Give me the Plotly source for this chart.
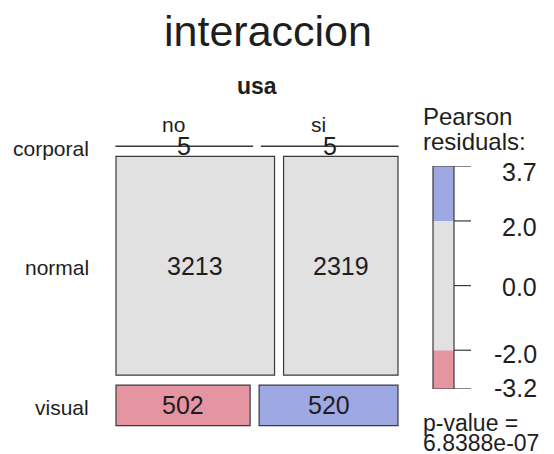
import numpy as np
import plotly.graph_objects as go

# ---- data ----
rows = ["corporal", "normal", "visual"]
cols = ["no", "si"]
counts_no = [5, 3213, 502]
counts_si = [5, 2319, 520]
legend_ticks = [-3.2, -2.0, 0.0, 2.0, 3.7]
legend_tick_labels = ["-3.2", "-2.0", "0.0", "2.0", "3.7"]
title_text = "interaccion"
col_var = "usa"
legend_title_lines = ["Pearson", "residuals:"]
pvalue_lines = ["p-value =", "6.8388e-07"]

# ---- derived ----
tab = np.array([counts_no, counts_si], dtype=float).T  # rows x cols
grand = tab.sum()
expected = np.outer(tab.sum(1), tab.sum(0)) / grand
resid = (tab - expected) / np.sqrt(expected)

GRAY = "#e1e1e1"
PINK = "#e595a2"
BLUE = "#9ea8e2"
BORDER = "#3a3a3a"
FONT = "Liberation Sans, Arial, sans-serif"
TXT = "#1e1e1e"


def fill_for(r):
    if r > 2:
        return BLUE
    if r < -2:
        return PINK
    return GRAY


# geometry of the mosaic area (pixel canvas)
X0, XW, XGAP = 116.0, 282.0, 9.0
Y0, YH, YGAP = 146.0, 259.6, 10.0

fig = go.Figure()
shapes = []
annotations = []

y = Y0
for i, rname in enumerate(rows):
    rt = tab[i].sum()
    h = rt / grand * YH
    avail = XW - XGAP * (len(cols) - 1)
    x = X0
    for j in range(len(cols)):
        w = tab[i, j] / rt * avail
        shapes.append(dict(type="rect", xref="x", yref="y", x0=x, x1=x + w, y0=y, y1=y + h,
                           fillcolor=fill_for(resid[i, j]), line=dict(color=BORDER, width=1.2)))
        annotations.append(dict(x=x + w / 2, y=y + h / 2, xref="x", yref="y",
                                text=str(int(tab[i, j])), showarrow=False,
                                font=dict(family=FONT, size=25, color=TXT),
                                xanchor="center", yanchor="middle"))
        if i == 0:
            annotations.append(dict(x=x + w / 2 - 11, y=y - 22, xref="x", yref="y",
                                    text=cols[j], showarrow=False,
                                    font=dict(family=FONT, size=21, color=TXT),
                                    xanchor="center", yanchor="middle"))
        x += w + XGAP
    annotations.append(dict(x=91, y=y + h / 2 + 2, xref="x", yref="y", text=rname,
                            showarrow=False, font=dict(family=FONT, size=21, color=TXT),
                            xanchor="right", yanchor="middle"))
    y += h + YGAP

# title and variable name
annotations.append(dict(x=268, y=31, xref="x", yref="y", text=title_text, showarrow=False,
                        font=dict(family=FONT, size=43, color=TXT), xanchor="center", yanchor="middle"))
annotations.append(dict(x=257, y=86, xref="x", yref="y", text="<b>" + col_var + "</b>", showarrow=False,
                        font=dict(family=FONT, size=23, color=TXT), xanchor="center", yanchor="middle"))

# legend (on its own y axis)
rmin, rmax = legend_ticks[0], legend_ticks[-1]
LX0, LX1 = 433, 454
bands = [(rmin, -2.0, PINK), (-2.0, 2.0, GRAY), (2.0, rmax, BLUE)]
for b0, b1, c in bands:
    shapes.append(dict(type="rect", xref="x", yref="y2", x0=LX0, x1=LX1, y0=b0, y1=b1,
                       fillcolor=c, line=dict(width=0)))
shapes.append(dict(type="rect", xref="x", yref="y2", x0=LX0, x1=LX1, y0=rmin, y1=rmax,
                   line=dict(color=BORDER, width=1.2)))
label_shift = {"3.7": -6, "2.0": -6, "0.0": -1, "-2.0": -4, "-3.2": 1}
for v, lab in zip(legend_ticks, legend_tick_labels):
    shapes.append(dict(type="line", xref="x", yref="y2", x0=LX1, x1=471, y0=v, y1=v,
                       line=dict(color=BORDER, width=1.2)))
    annotations.append(dict(x=539, y=v, xref="x", yref="y2", text=lab, showarrow=False,
                            yshift=label_shift[lab],
                            font=dict(family=FONT, size=25, color=TXT), xanchor="right", yanchor="middle"))

for k, line in enumerate(legend_title_lines):
    annotations.append(dict(x=421, y=116 + 25 * k, xref="x", yref="y", text=line,
                            showarrow=False, align="left",
                            font=dict(family=FONT, size=24, color=TXT), xanchor="left", yanchor="middle"))
for k, line in enumerate(pvalue_lines):
    annotations.append(dict(x=421, y=423 + 20 * k, xref="x", yref="y", text=line,
                            showarrow=False, align="left",
                            font=dict(family=FONT, size=23, color=TXT), xanchor="left", yanchor="middle"))

# invisible trace to create axes
fig.add_trace(go.Scatter(x=[0], y=[0], mode="markers", marker=dict(opacity=0), showlegend=False,
                         hoverinfo="skip"))

fig.update_layout(
    width=554, height=454,
    margin=dict(l=0, r=0, t=0, b=0),
    paper_bgcolor="white", plot_bgcolor="white",
    xaxis=dict(range=[0, 554], visible=False, fixedrange=True, domain=[0, 1]),
    yaxis=dict(range=[454, 0], visible=False, fixedrange=True, domain=[0, 1]),
    yaxis2=dict(range=[rmin, rmax], visible=False, fixedrange=True, anchor="x",
                domain=[1 - 389 / 454, 1 - 166 / 454]),
    shapes=shapes, annotations=annotations, showlegend=False,
)

fig.write_html("out.html", config={"displayModeBar": False},
               post_script="document.body.style.margin='0';document.body.style.padding='0';"
                           "document.body.style.overflow='hidden';")
